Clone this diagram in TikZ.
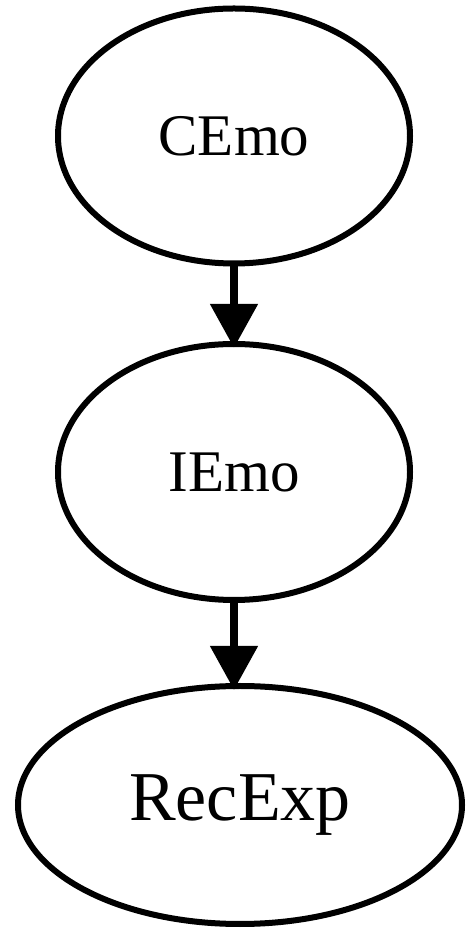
\documentclass[tikz,border=0pt]{standalone}
\usepackage{fontspec}
\setmainfont{Liberation Serif}
\usetikzlibrary{shapes.geometric,arrows.meta}
\tikzset{
  emo/.style={draw=black, line width=6pt, ellipse, inner sep=0pt, fill=white},
  conn/.style={draw=black, line width=8pt, -{Triangle[width=46pt,length=44pt]}, shorten >=-7pt}
}
\begin{document}
\begin{tikzpicture}[x=1pt,y=1pt]
\useasboundingbox (0,0) rectangle (468,929);
\fill[white] (0,0) rectangle (468,929);
\node[emo, minimum width=352pt, minimum height=255pt, font=\fontsize{59}{60}\selectfont] (cemo) at (234,793) {CEmo};
\node[emo, minimum width=352pt, minimum height=256pt, font=\fontsize{59}{60}\selectfont] (iemo) at (234,457) {IEmo};
\node[emo, minimum width=444pt, minimum height=238pt, font=\fontsize{70}{72}\selectfont] (recexp) at (240,124) {RecExp};
\draw[conn] (cemo.south) -- (iemo.north);
\draw[conn] (iemo.south) -- (recexp.north -| iemo.south);
\end{tikzpicture}
\end{document}
